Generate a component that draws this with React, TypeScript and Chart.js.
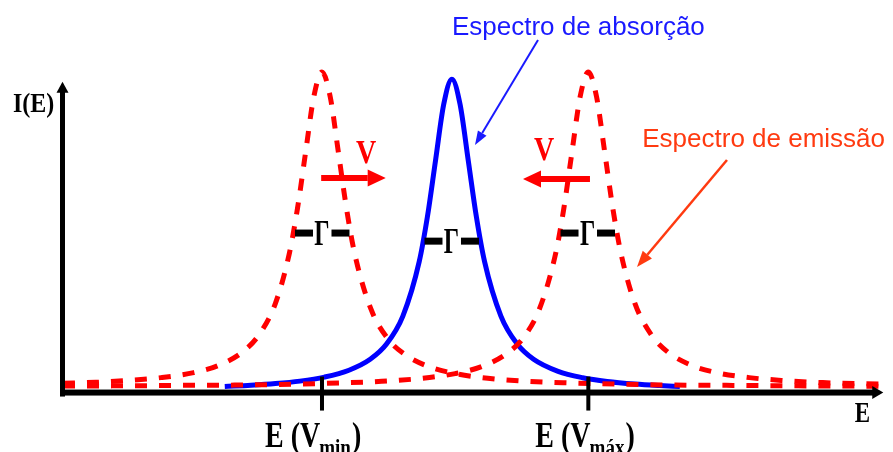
import React, { useEffect, useRef } from "react";
import { Chart, registerables } from "chart.js";

Chart.register(...registerables);

// Emission spectrum at minimum velocity (red, dashed, left)
const leftX = [0, 4, 8, 12, 16, 19, 22, 24, 26, 27.7, 28.7, 29.7, 30.7, 31.7, 32.7, 33.7, 34.7, 35.7, 37.7, 39.7, 41.7, 44.7, 48, 52, 57, 62, 68, 75, 82, 90, 100];
const leftY = [2.5, 2.8, 3.4, 4.3, 5.9, 8.2, 12.6, 18.1, 28.2, 44.2, 58.7, 76.9, 94.7, 102.6, 94.7, 76.9, 58.7, 44.2, 26.3, 17.0, 12.0, 7.9, 5.6, 4.1, 3.1, 2.6, 2.2, 1.9, 1.8, 1.65, 1.55];

// Emission spectrum at maximum velocity (red, dashed, right)
const rightX = [0, 6, 14, 21, 28, 34, 39, 44, 48, 51.3, 54.3, 56.3, 58.3, 60.3, 61.3, 62.3, 63.3, 64.3, 65.3, 66.3, 67.3, 68.3, 70, 72, 74, 77, 80, 84, 88, 93, 100];
const rightY = [1.6, 1.65, 1.8, 1.9, 2.2, 2.6, 3.1, 4.1, 5.6, 7.9, 12.0, 17.0, 26.3, 44.2, 58.7, 76.9, 94.7, 102.6, 94.7, 76.9, 58.7, 44.2, 28.2, 18.1, 12.6, 8.2, 5.9, 4.3, 3.4, 2.7, 2.2];

// Absorption spectrum (blue, solid, centre)
const blueX = [19.8, 23, 26, 29, 32, 35, 37.6, 39.6, 41.6, 43.6, 44.6, 45.6, 46.6, 47.6, 48.6, 49.6, 50.6, 51.6, 53.6, 55.6, 57.6, 60.6, 63.6, 66.6, 70, 73, 75.5];
const blueY = [1.45, 1.85, 2.38, 3.18, 4.48, 6.69, 10.2, 15.1, 24.1, 41.6, 56.0, 74.2, 92.2, 100.3, 92.2, 74.2, 56.0, 41.6, 24.1, 15.1, 10.2, 6.31, 4.27, 3.06, 2.22, 1.74, 1.44];

// Tick positions on the energy axis and their labels
const tickX = [31.7, 64.3];
const tickMain = ["E (V", "E (V"];
const tickSub = ["min", "máx"];

// Half-width markers (Γ) at half maximum
const gammaX = [31.7, 47.55, 64.2];
const gammaY = [50.8, 48.2, 50.8];

const toPts = (xs: number[], ys: number[]) => xs.map((x, i) => ({ x, y: ys[i] }));

function drawArrow(ctx: CanvasRenderingContext2D, x1: number, y1: number, x2: number, y2: number, color: string, lw: number, hl: number, hw: number) {
  const ang = Math.atan2(y2 - y1, x2 - x1);
  const bx = x2 - hl * Math.cos(ang);
  const by = y2 - hl * Math.sin(ang);
  ctx.save();
  ctx.strokeStyle = color;
  ctx.fillStyle = color;
  ctx.lineWidth = lw;
  ctx.lineCap = "butt";
  ctx.beginPath();
  ctx.moveTo(x1, y1);
  ctx.lineTo(bx, by);
  ctx.stroke();
  ctx.beginPath();
  ctx.moveTo(x2, y2);
  ctx.lineTo(bx + hw * Math.sin(ang), by - hw * Math.cos(ang));
  ctx.lineTo(bx - hw * Math.sin(ang), by + hw * Math.cos(ang));
  ctx.closePath();
  ctx.fill();
  ctx.restore();
}

function drawText(ctx: CanvasRenderingContext2D, text: string, x: number, y: number, font: string, color: string, align: CanvasTextAlign = "left", sy = 1) {
  ctx.save();
  ctx.translate(x, y);
  ctx.scale(1, sy);
  ctx.font = font;
  ctx.fillStyle = color;
  ctx.textAlign = align;
  ctx.textBaseline = "alphabetic";
  ctx.fillText(text, 0, 0);
  ctx.restore();
}

const annotPlugin = {
  id: "annot",
  afterDatasetsDraw(chart: any) {
    const ctx: CanvasRenderingContext2D = chart.ctx;
    const xs = chart.scales.x;
    const ys = chart.scales.y;
    const X = (v: number) => xs.getPixelForValue(v);
    const Y = (v: number) => ys.getPixelForValue(v);
    const serif = '"Liberation Serif", "Times New Roman", serif';
    const sans = '"Liberation Sans", Arial, sans-serif';

    // Axes
    const ax = X(0) - 0.5;
    const ay = Y(-0.5);
    ctx.save();
    ctx.fillStyle = "#000";
    ctx.fillRect(ax - 2.5, Y(99) + 6, 5, ay + 4 - (Y(99) + 6));
    ctx.beginPath();
    ctx.moveTo(ax, Y(99.5));
    ctx.lineTo(ax + 6, Y(99.5) + 11);
    ctx.lineTo(ax - 6, Y(99.5) + 11);
    ctx.closePath();
    ctx.fill();
    const xEnd = X(100.4);
    ctx.fillRect(ax - 2.5, ay - 3, xEnd - 10 - (ax - 2.5), 6);
    ctx.beginPath();
    ctx.moveTo(xEnd, ay);
    ctx.lineTo(xEnd - 11, ay - 6.5);
    ctx.lineTo(xEnd - 11, ay + 6.5);
    ctx.closePath();
    ctx.fill();
    // Ticks
    tickX.forEach((t) => {
      ctx.fillRect(X(t) - 2, ay - 16, 4, 34);
    });
    ctx.restore();

    // Axis labels
    drawText(ctx, "I(E)", 13, 112, "bold 24px " + serif, "#000", "left", 1.1);
    drawText(ctx, "E", X(96.9), 422, "bold 23px " + serif, "#000", "left", 1.25);

    // Tick labels E(Vmin), E(Vmax)
    const offs = [-57, -53];
    tickX.forEach((t, i) => {
      let x = X(t) + offs[i];
      const base = 447;
      ctx.save();
      ctx.font = "bold 28px " + serif;
      const w1 = ctx.measureText(tickMain[i]).width;
      ctx.font = "bold 19px " + serif;
      const w2 = ctx.measureText(tickSub[i]).width;
      ctx.restore();
      drawText(ctx, tickMain[i], x, base, "bold 28px " + serif, "#000", "left", 1.3);
      drawText(ctx, tickSub[i], x + w1 - 1, base + 8, "bold 19px " + serif, "#000", "left", 1.2);
      drawText(ctx, ")", x + w1 + w2, base, "bold 28px " + serif, "#000", "left", 1.3);
    });

    // Gamma markers
    gammaX.forEach((g, i) => {
      const cx = X(g);
      const cy = Y(gammaY[i]);
      ctx.save();
      ctx.fillStyle = "#000";
      ctx.fillRect(cx - 27, cy - 3.5, 18, 7);
      ctx.fillRect(cx + 9.5, cy - 3.5, 18, 7);
      ctx.restore();
      drawText(ctx, "Γ", cx, cy + 12, "bold 24px " + serif, "#000", "center", 1.5);
    });

    // Velocity arrows
    drawArrow(ctx, X(31.6), Y(68.5), X(39.5), Y(68.5), "#ff0000", 6, 18, 8.5);
    drawArrow(ctx, X(64.5), Y(68.2), X(56.3), Y(68.2), "#ff0000", 6, 18, 8.5);
    drawText(ctx, "V", X(37.1), Y(73.3), "bold 28px " + serif, "#ff0000", "center", 1.2);
    drawText(ctx, "V", X(58.9), Y(74.3), "bold 28px " + serif, "#ff0000", "center", 1.2);

    // Spectrum labels and pointers
    drawText(ctx, "Espectro de absorção", X(47.6), Y(114.5), "26px " + sans, "#1a1aff");
    drawArrow(ctx, X(58.14), Y(112.9), X(50.43), Y(79.1), "#1a1aff", 2, 14, 5);
    drawText(ctx, "Espectro de emissão", X(70.9), Y(78.5), "26px " + sans, "#ff3a10");
    drawArrow(ctx, X(81.27), Y(74.3), X(70.26), Y(39.9), "#ff3a10", 2.5, 16, 6);
  },
};

export default function App() {
  const ref = useRef<HTMLCanvasElement | null>(null);
  useEffect(() => {
    if (!ref.current) return;
    const redStyle = {
      borderColor: "#ff0000",
      borderWidth: 5,
      borderDash: [12, 12],
      borderCapStyle: "butt" as const,
      pointRadius: 0,
      fill: false,
      cubicInterpolationMode: "monotone" as const,
      clip: false as const,
    };
    const chart = new Chart(ref.current, {
      type: "line",
      data: {
        datasets: [
          { label: "Emissão (Vmin)", data: toPts(leftX, leftY), ...redStyle },
          { label: "Emissão (Vmáx)", data: toPts(rightX, rightY), ...redStyle },
          {
            label: "Absorção",
            data: toPts(blueX, blueY),
            borderColor: "#0000ff",
            borderWidth: 5,
            pointRadius: 0,
            fill: false,
            cubicInterpolationMode: "monotone",
            clip: false,
          },
        ],
      },
      options: {
        responsive: false,
        animation: false,
        layout: { padding: { left: 63, right: 13, top: 49, bottom: 61 } },
        scales: {
          x: { type: "linear", min: 0, max: 100, display: false },
          y: { type: "linear", min: 0, max: 110, display: false },
        },
        plugins: { legend: { display: false }, tooltip: { enabled: false } },
        elements: { point: { radius: 0 } },
      },
      plugins: [annotPlugin],
    } as any);
    return () => chart.destroy();
  }, []);
  return (
    <div style={{ position: "absolute", left: 0, top: 0, width: 893, height: 452, background: "#fff" }}>
      <canvas ref={ref} width={893} height={452} style={{ display: "block" }} />
    </div>
  );
}
